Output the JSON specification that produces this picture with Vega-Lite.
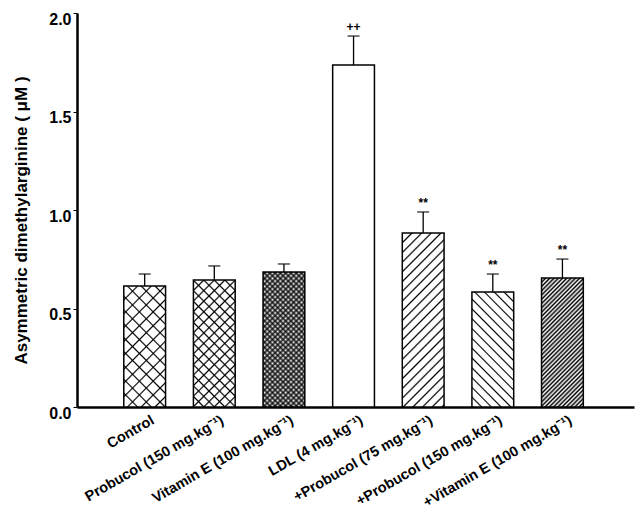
{
  "$schema": "https://vega.github.io/schema/vega-lite/v6.json",
  "width": 557,
  "height": 394,
  "autosize": "none",
  "padding": {"left": 77, "top": 13, "right": 6, "bottom": 112},
  "background": "white",
  "config": {
    "view": {"stroke": null},
    "font": "Liberation Sans",
    "axis": {"labelFont": "Liberation Sans", "titleFont": "Liberation Sans", "labelColor": "black", "titleColor": "black", "domainColor": "black", "tickColor": "black"}
  },
  "data": {
    "values": [
      {"n": 1, "group": "Control", "value": 0.614, "err": 0.675, "sig": ""},
      {"n": 2, "group": "Probucol (150 mg.kg⁻¹)", "value": 0.645, "err": 0.716, "sig": ""},
      {"n": 3, "group": "Vitamin E (100 mg.kg⁻¹)", "value": 0.685, "err": 0.726, "sig": ""},
      {"n": 4, "group": "LDL (4 mg.kg⁻¹)", "value": 1.736, "err": 1.883, "sig": "++"},
      {"n": 5, "group": "+Probucol (75 mg.kg⁻¹)", "value": 0.883, "err": 0.99, "sig": "**"},
      {"n": 6, "group": "+Probucol (150 mg.kg⁻¹)", "value": 0.584, "err": 0.675, "sig": "**"},
      {"n": 7, "group": "+Vitamin E (100 mg.kg⁻¹)", "value": 0.655, "err": 0.751, "sig": "**"}
    ]
  },
  "encoding": {
    "x": {
      "field": "group", "type": "nominal", "title": null,
      "scale": {"domain": ["Control", "Probucol (150 mg.kg⁻¹)", "Vitamin E (100 mg.kg⁻¹)", "LDL (4 mg.kg⁻¹)", "+Probucol (75 mg.kg⁻¹)", "+Probucol (150 mg.kg⁻¹)", "+Vitamin E (100 mg.kg⁻¹)"], "paddingInner": 0.4, "paddingOuter": 0.7, "align": 0.48},
      "axis": {"ticks": false, "domainWidth": 2.5, "labelAngle": -30, "labelAlign": "right", "labelBaseline": "top", "labelFontSize": 14.5, "labelFontWeight": "bold", "labelPadding": 6, "labelOffset": 5, "labelLimit": 400}
    },
    "y": {
      "field": "value", "type": "quantitative", "title": "Asymmetric dimethylarginine ( μM )",
      "scale": {"domain": [0, 2], "nice": false},
      "axis": {"values": [0, 0.5, 1, 1.5, 2], "format": ".1f", "grid": false, "domainWidth": 2.5, "tickSize": 4, "tickWidth": 1, "labelFontSize": 16, "labelFontWeight": "bold", "labelPadding": 2, "labelBaseline": "top", "labelOffset": -2, "titleFontSize": 17, "titleFontWeight": "bold", "titlePadding": 18, "titleY": 207}
    }
  },
  "layer": [
    {"mark": {"type": "bar", "fill": "white"}},
    {"transform": [{"filter": "datum.n === 1"}], "mark": {"type": "bar", "fill": {"gradient": "linear", "x1": 0, "y1": 0, "x2": 0.4173, "y2": 1.2023, "stops": [
      {"offset": 0.075, "color": "transparent"}, {"offset": 0.085, "color": "black"}, {"offset": 0.095, "color": "transparent"},
      {"offset": 0.16, "color": "transparent"}, {"offset": 0.17, "color": "black"}, {"offset": 0.18, "color": "transparent"},
      {"offset": 0.245, "color": "transparent"}, {"offset": 0.255, "color": "black"}, {"offset": 0.265, "color": "transparent"},
      {"offset": 0.33, "color": "transparent"}, {"offset": 0.34, "color": "black"}, {"offset": 0.35, "color": "transparent"},
      {"offset": 0.415, "color": "transparent"}, {"offset": 0.425, "color": "black"}, {"offset": 0.435, "color": "transparent"},
      {"offset": 0.5, "color": "transparent"}, {"offset": 0.51, "color": "black"}, {"offset": 0.52, "color": "transparent"},
      {"offset": 0.585, "color": "transparent"}, {"offset": 0.595, "color": "black"}, {"offset": 0.605, "color": "transparent"},
      {"offset": 0.67, "color": "transparent"}, {"offset": 0.68, "color": "black"}, {"offset": 0.69, "color": "transparent"},
      {"offset": 0.755, "color": "transparent"}, {"offset": 0.765, "color": "black"}, {"offset": 0.775, "color": "transparent"},
      {"offset": 0.84, "color": "transparent"}, {"offset": 0.85, "color": "black"}, {"offset": 0.86, "color": "transparent"},
      {"offset": 0.925, "color": "transparent"}, {"offset": 0.935, "color": "black"}, {"offset": 0.945, "color": "transparent"}
    ]}}},
    {"transform": [{"filter": "datum.n === 1"}], "mark": {"type": "bar", "fill": {"gradient": "linear", "x1": 0, "y1": 1, "x2": 0.4173, "y2": -0.2023, "stops": [
      {"offset": 0.075, "color": "transparent"}, {"offset": 0.085, "color": "black"}, {"offset": 0.095, "color": "transparent"},
      {"offset": 0.16, "color": "transparent"}, {"offset": 0.17, "color": "black"}, {"offset": 0.18, "color": "transparent"},
      {"offset": 0.245, "color": "transparent"}, {"offset": 0.255, "color": "black"}, {"offset": 0.265, "color": "transparent"},
      {"offset": 0.33, "color": "transparent"}, {"offset": 0.34, "color": "black"}, {"offset": 0.35, "color": "transparent"},
      {"offset": 0.415, "color": "transparent"}, {"offset": 0.425, "color": "black"}, {"offset": 0.435, "color": "transparent"},
      {"offset": 0.5, "color": "transparent"}, {"offset": 0.51, "color": "black"}, {"offset": 0.52, "color": "transparent"},
      {"offset": 0.585, "color": "transparent"}, {"offset": 0.595, "color": "black"}, {"offset": 0.605, "color": "transparent"},
      {"offset": 0.67, "color": "transparent"}, {"offset": 0.68, "color": "black"}, {"offset": 0.69, "color": "transparent"},
      {"offset": 0.755, "color": "transparent"}, {"offset": 0.765, "color": "black"}, {"offset": 0.775, "color": "transparent"},
      {"offset": 0.84, "color": "transparent"}, {"offset": 0.85, "color": "black"}, {"offset": 0.86, "color": "transparent"},
      {"offset": 0.925, "color": "transparent"}, {"offset": 0.935, "color": "black"}, {"offset": 0.945, "color": "transparent"}
    ]}}},
    {"transform": [{"filter": "datum.n === 2"}], "mark": {"type": "bar", "fill": {"gradient": "linear", "x1": 0, "y1": 0, "x2": 0.3967, "y2": 1.1995, "stops": [
      {"offset": 0.0525, "color": "transparent"}, {"offset": 0.0625, "color": "black"}, {"offset": 0.0725, "color": "transparent"},
      {"offset": 0.115, "color": "transparent"}, {"offset": 0.125, "color": "black"}, {"offset": 0.135, "color": "transparent"},
      {"offset": 0.1775, "color": "transparent"}, {"offset": 0.1875, "color": "black"}, {"offset": 0.1975, "color": "transparent"},
      {"offset": 0.24, "color": "transparent"}, {"offset": 0.25, "color": "black"}, {"offset": 0.26, "color": "transparent"},
      {"offset": 0.3025, "color": "transparent"}, {"offset": 0.3125, "color": "black"}, {"offset": 0.3225, "color": "transparent"},
      {"offset": 0.365, "color": "transparent"}, {"offset": 0.375, "color": "black"}, {"offset": 0.385, "color": "transparent"},
      {"offset": 0.4275, "color": "transparent"}, {"offset": 0.4375, "color": "black"}, {"offset": 0.4475, "color": "transparent"},
      {"offset": 0.49, "color": "transparent"}, {"offset": 0.5, "color": "black"}, {"offset": 0.51, "color": "transparent"},
      {"offset": 0.5525, "color": "transparent"}, {"offset": 0.5625, "color": "black"}, {"offset": 0.5725, "color": "transparent"},
      {"offset": 0.615, "color": "transparent"}, {"offset": 0.625, "color": "black"}, {"offset": 0.635, "color": "transparent"},
      {"offset": 0.6775, "color": "transparent"}, {"offset": 0.6875, "color": "black"}, {"offset": 0.6975, "color": "transparent"},
      {"offset": 0.74, "color": "transparent"}, {"offset": 0.75, "color": "black"}, {"offset": 0.76, "color": "transparent"},
      {"offset": 0.8025, "color": "transparent"}, {"offset": 0.8125, "color": "black"}, {"offset": 0.8225, "color": "transparent"},
      {"offset": 0.865, "color": "transparent"}, {"offset": 0.875, "color": "black"}, {"offset": 0.885, "color": "transparent"},
      {"offset": 0.9275, "color": "transparent"}, {"offset": 0.9375, "color": "black"}, {"offset": 0.9475, "color": "transparent"}
    ]}}},
    {"transform": [{"filter": "datum.n === 2"}], "mark": {"type": "bar", "fill": {"gradient": "linear", "x1": 0, "y1": 1, "x2": 0.3967, "y2": -0.1995, "stops": [
      {"offset": 0.0525, "color": "transparent"}, {"offset": 0.0625, "color": "black"}, {"offset": 0.0725, "color": "transparent"},
      {"offset": 0.115, "color": "transparent"}, {"offset": 0.125, "color": "black"}, {"offset": 0.135, "color": "transparent"},
      {"offset": 0.1775, "color": "transparent"}, {"offset": 0.1875, "color": "black"}, {"offset": 0.1975, "color": "transparent"},
      {"offset": 0.24, "color": "transparent"}, {"offset": 0.25, "color": "black"}, {"offset": 0.26, "color": "transparent"},
      {"offset": 0.3025, "color": "transparent"}, {"offset": 0.3125, "color": "black"}, {"offset": 0.3225, "color": "transparent"},
      {"offset": 0.365, "color": "transparent"}, {"offset": 0.375, "color": "black"}, {"offset": 0.385, "color": "transparent"},
      {"offset": 0.4275, "color": "transparent"}, {"offset": 0.4375, "color": "black"}, {"offset": 0.4475, "color": "transparent"},
      {"offset": 0.49, "color": "transparent"}, {"offset": 0.5, "color": "black"}, {"offset": 0.51, "color": "transparent"},
      {"offset": 0.5525, "color": "transparent"}, {"offset": 0.5625, "color": "black"}, {"offset": 0.5725, "color": "transparent"},
      {"offset": 0.615, "color": "transparent"}, {"offset": 0.625, "color": "black"}, {"offset": 0.635, "color": "transparent"},
      {"offset": 0.6775, "color": "transparent"}, {"offset": 0.6875, "color": "black"}, {"offset": 0.6975, "color": "transparent"},
      {"offset": 0.74, "color": "transparent"}, {"offset": 0.75, "color": "black"}, {"offset": 0.76, "color": "transparent"},
      {"offset": 0.8025, "color": "transparent"}, {"offset": 0.8125, "color": "black"}, {"offset": 0.8225, "color": "transparent"},
      {"offset": 0.865, "color": "transparent"}, {"offset": 0.875, "color": "black"}, {"offset": 0.885, "color": "transparent"},
      {"offset": 0.9275, "color": "transparent"}, {"offset": 0.9375, "color": "black"}, {"offset": 0.9475, "color": "transparent"}
    ]}}},
    {"transform": [{"filter": "datum.n === 3"}], "mark": {"type": "bar", "fillOpacity": 0.8, "fill": {"gradient": "linear", "x1": 0, "y1": 0, "x2": 0.3719, "y2": 1.1954, "stops": [
      {"offset": 0, "color": "transparent"}, {"offset": 0.015, "color": "black"}, {"offset": 0.03, "color": "transparent"}, {"offset": 0.045, "color": "black"}, {"offset": 0.06, "color": "transparent"}, {"offset": 0.075, "color": "black"}, {"offset": 0.09, "color": "transparent"}, {"offset": 0.105, "color": "black"}, {"offset": 0.12, "color": "transparent"}, {"offset": 0.135, "color": "black"},
      {"offset": 0.15, "color": "transparent"}, {"offset": 0.165, "color": "black"}, {"offset": 0.18, "color": "transparent"}, {"offset": 0.195, "color": "black"}, {"offset": 0.21, "color": "transparent"}, {"offset": 0.225, "color": "black"}, {"offset": 0.24, "color": "transparent"}, {"offset": 0.255, "color": "black"}, {"offset": 0.27, "color": "transparent"}, {"offset": 0.285, "color": "black"},
      {"offset": 0.3, "color": "transparent"}, {"offset": 0.315, "color": "black"}, {"offset": 0.33, "color": "transparent"}, {"offset": 0.345, "color": "black"}, {"offset": 0.36, "color": "transparent"}, {"offset": 0.375, "color": "black"}, {"offset": 0.39, "color": "transparent"}, {"offset": 0.405, "color": "black"}, {"offset": 0.42, "color": "transparent"}, {"offset": 0.435, "color": "black"},
      {"offset": 0.45, "color": "transparent"}, {"offset": 0.465, "color": "black"}, {"offset": 0.48, "color": "transparent"}, {"offset": 0.495, "color": "black"}, {"offset": 0.51, "color": "transparent"}, {"offset": 0.525, "color": "black"}, {"offset": 0.54, "color": "transparent"}, {"offset": 0.555, "color": "black"}, {"offset": 0.57, "color": "transparent"}, {"offset": 0.585, "color": "black"},
      {"offset": 0.6, "color": "transparent"}, {"offset": 0.615, "color": "black"}, {"offset": 0.63, "color": "transparent"}, {"offset": 0.645, "color": "black"}, {"offset": 0.66, "color": "transparent"}, {"offset": 0.675, "color": "black"}, {"offset": 0.69, "color": "transparent"}, {"offset": 0.705, "color": "black"}, {"offset": 0.72, "color": "transparent"}, {"offset": 0.735, "color": "black"},
      {"offset": 0.75, "color": "transparent"}, {"offset": 0.765, "color": "black"}, {"offset": 0.78, "color": "transparent"}, {"offset": 0.795, "color": "black"}, {"offset": 0.81, "color": "transparent"}, {"offset": 0.825, "color": "black"}, {"offset": 0.84, "color": "transparent"}, {"offset": 0.855, "color": "black"}, {"offset": 0.87, "color": "transparent"}, {"offset": 0.885, "color": "black"},
      {"offset": 0.9, "color": "transparent"}, {"offset": 0.915, "color": "black"}, {"offset": 0.93, "color": "transparent"}, {"offset": 0.945, "color": "black"}, {"offset": 0.96, "color": "transparent"}, {"offset": 0.975, "color": "black"}, {"offset": 0.99, "color": "transparent"}
    ]}}},
    {"transform": [{"filter": "datum.n === 3"}], "mark": {"type": "bar", "fillOpacity": 0.8, "fill": {"gradient": "linear", "x1": 0, "y1": 1, "x2": 0.3719, "y2": -0.1954, "stops": [
      {"offset": 0, "color": "transparent"}, {"offset": 0.015, "color": "black"}, {"offset": 0.03, "color": "transparent"}, {"offset": 0.045, "color": "black"}, {"offset": 0.06, "color": "transparent"}, {"offset": 0.075, "color": "black"}, {"offset": 0.09, "color": "transparent"}, {"offset": 0.105, "color": "black"}, {"offset": 0.12, "color": "transparent"}, {"offset": 0.135, "color": "black"},
      {"offset": 0.15, "color": "transparent"}, {"offset": 0.165, "color": "black"}, {"offset": 0.18, "color": "transparent"}, {"offset": 0.195, "color": "black"}, {"offset": 0.21, "color": "transparent"}, {"offset": 0.225, "color": "black"}, {"offset": 0.24, "color": "transparent"}, {"offset": 0.255, "color": "black"}, {"offset": 0.27, "color": "transparent"}, {"offset": 0.285, "color": "black"},
      {"offset": 0.3, "color": "transparent"}, {"offset": 0.315, "color": "black"}, {"offset": 0.33, "color": "transparent"}, {"offset": 0.345, "color": "black"}, {"offset": 0.36, "color": "transparent"}, {"offset": 0.375, "color": "black"}, {"offset": 0.39, "color": "transparent"}, {"offset": 0.405, "color": "black"}, {"offset": 0.42, "color": "transparent"}, {"offset": 0.435, "color": "black"},
      {"offset": 0.45, "color": "transparent"}, {"offset": 0.465, "color": "black"}, {"offset": 0.48, "color": "transparent"}, {"offset": 0.495, "color": "black"}, {"offset": 0.51, "color": "transparent"}, {"offset": 0.525, "color": "black"}, {"offset": 0.54, "color": "transparent"}, {"offset": 0.555, "color": "black"}, {"offset": 0.57, "color": "transparent"}, {"offset": 0.585, "color": "black"},
      {"offset": 0.6, "color": "transparent"}, {"offset": 0.615, "color": "black"}, {"offset": 0.63, "color": "transparent"}, {"offset": 0.645, "color": "black"}, {"offset": 0.66, "color": "transparent"}, {"offset": 0.675, "color": "black"}, {"offset": 0.69, "color": "transparent"}, {"offset": 0.705, "color": "black"}, {"offset": 0.72, "color": "transparent"}, {"offset": 0.735, "color": "black"},
      {"offset": 0.75, "color": "transparent"}, {"offset": 0.765, "color": "black"}, {"offset": 0.78, "color": "transparent"}, {"offset": 0.795, "color": "black"}, {"offset": 0.81, "color": "transparent"}, {"offset": 0.825, "color": "black"}, {"offset": 0.84, "color": "transparent"}, {"offset": 0.855, "color": "black"}, {"offset": 0.87, "color": "transparent"}, {"offset": 0.885, "color": "black"},
      {"offset": 0.9, "color": "transparent"}, {"offset": 0.915, "color": "black"}, {"offset": 0.93, "color": "transparent"}, {"offset": 0.945, "color": "black"}, {"offset": 0.96, "color": "transparent"}, {"offset": 0.975, "color": "black"}, {"offset": 0.99, "color": "transparent"}
    ]}}},
    {"transform": [{"filter": "datum.n === 5"}], "mark": {"type": "bar", "fill": {"gradient": "linear", "x1": 0, "y1": 0, "x2": 0.2831, "y2": 1.1729, "stops": [
      {"offset": 0.037, "color": "transparent"}, {"offset": 0.045, "color": "black"}, {"offset": 0.053, "color": "transparent"},
      {"offset": 0.082, "color": "transparent"}, {"offset": 0.09, "color": "black"}, {"offset": 0.098, "color": "transparent"},
      {"offset": 0.127, "color": "transparent"}, {"offset": 0.135, "color": "black"}, {"offset": 0.143, "color": "transparent"},
      {"offset": 0.172, "color": "transparent"}, {"offset": 0.18, "color": "black"}, {"offset": 0.188, "color": "transparent"},
      {"offset": 0.217, "color": "transparent"}, {"offset": 0.225, "color": "black"}, {"offset": 0.233, "color": "transparent"},
      {"offset": 0.262, "color": "transparent"}, {"offset": 0.27, "color": "black"}, {"offset": 0.278, "color": "transparent"},
      {"offset": 0.307, "color": "transparent"}, {"offset": 0.315, "color": "black"}, {"offset": 0.323, "color": "transparent"},
      {"offset": 0.352, "color": "transparent"}, {"offset": 0.36, "color": "black"}, {"offset": 0.368, "color": "transparent"},
      {"offset": 0.397, "color": "transparent"}, {"offset": 0.405, "color": "black"}, {"offset": 0.413, "color": "transparent"},
      {"offset": 0.442, "color": "transparent"}, {"offset": 0.45, "color": "black"}, {"offset": 0.458, "color": "transparent"},
      {"offset": 0.487, "color": "transparent"}, {"offset": 0.495, "color": "black"}, {"offset": 0.503, "color": "transparent"},
      {"offset": 0.532, "color": "transparent"}, {"offset": 0.54, "color": "black"}, {"offset": 0.548, "color": "transparent"},
      {"offset": 0.577, "color": "transparent"}, {"offset": 0.585, "color": "black"}, {"offset": 0.593, "color": "transparent"},
      {"offset": 0.622, "color": "transparent"}, {"offset": 0.63, "color": "black"}, {"offset": 0.638, "color": "transparent"},
      {"offset": 0.667, "color": "transparent"}, {"offset": 0.675, "color": "black"}, {"offset": 0.683, "color": "transparent"},
      {"offset": 0.712, "color": "transparent"}, {"offset": 0.72, "color": "black"}, {"offset": 0.728, "color": "transparent"},
      {"offset": 0.757, "color": "transparent"}, {"offset": 0.765, "color": "black"}, {"offset": 0.773, "color": "transparent"},
      {"offset": 0.802, "color": "transparent"}, {"offset": 0.81, "color": "black"}, {"offset": 0.818, "color": "transparent"},
      {"offset": 0.847, "color": "transparent"}, {"offset": 0.855, "color": "black"}, {"offset": 0.863, "color": "transparent"},
      {"offset": 0.892, "color": "transparent"}, {"offset": 0.9, "color": "black"}, {"offset": 0.908, "color": "transparent"},
      {"offset": 0.937, "color": "transparent"}, {"offset": 0.945, "color": "black"}, {"offset": 0.953, "color": "transparent"},
      {"offset": 0.982, "color": "transparent"}, {"offset": 0.99, "color": "black"}, {"offset": 0.998, "color": "transparent"}
    ]}}},
    {"transform": [{"filter": "datum.n === 6"}], "mark": {"type": "bar", "fill": {"gradient": "linear", "x1": 0, "y1": 1, "x2": 0.4399, "y2": -0.2045, "stops": [
      {"offset": 0.0525, "color": "transparent"}, {"offset": 0.0625, "color": "black"}, {"offset": 0.0725, "color": "transparent"},
      {"offset": 0.115, "color": "transparent"}, {"offset": 0.125, "color": "black"}, {"offset": 0.135, "color": "transparent"},
      {"offset": 0.1775, "color": "transparent"}, {"offset": 0.1875, "color": "black"}, {"offset": 0.1975, "color": "transparent"},
      {"offset": 0.24, "color": "transparent"}, {"offset": 0.25, "color": "black"}, {"offset": 0.26, "color": "transparent"},
      {"offset": 0.3025, "color": "transparent"}, {"offset": 0.3125, "color": "black"}, {"offset": 0.3225, "color": "transparent"},
      {"offset": 0.365, "color": "transparent"}, {"offset": 0.375, "color": "black"}, {"offset": 0.385, "color": "transparent"},
      {"offset": 0.4275, "color": "transparent"}, {"offset": 0.4375, "color": "black"}, {"offset": 0.4475, "color": "transparent"},
      {"offset": 0.49, "color": "transparent"}, {"offset": 0.5, "color": "black"}, {"offset": 0.51, "color": "transparent"},
      {"offset": 0.5525, "color": "transparent"}, {"offset": 0.5625, "color": "black"}, {"offset": 0.5725, "color": "transparent"},
      {"offset": 0.615, "color": "transparent"}, {"offset": 0.625, "color": "black"}, {"offset": 0.635, "color": "transparent"},
      {"offset": 0.6775, "color": "transparent"}, {"offset": 0.6875, "color": "black"}, {"offset": 0.6975, "color": "transparent"},
      {"offset": 0.74, "color": "transparent"}, {"offset": 0.75, "color": "black"}, {"offset": 0.76, "color": "transparent"},
      {"offset": 0.8025, "color": "transparent"}, {"offset": 0.8125, "color": "black"}, {"offset": 0.8225, "color": "transparent"},
      {"offset": 0.865, "color": "transparent"}, {"offset": 0.875, "color": "black"}, {"offset": 0.885, "color": "transparent"},
      {"offset": 0.9275, "color": "transparent"}, {"offset": 0.9375, "color": "black"}, {"offset": 0.9475, "color": "transparent"}
    ]}}},
    {"transform": [{"filter": "datum.n === 7"}], "mark": {"type": "bar", "fill": {"gradient": "linear", "x1": 0, "y1": 0, "x2": 0.3902, "y2": 1.1985, "stops": [
      {"offset": 0, "color": "black"}, {"offset": 0.0125, "color": "transparent"}, {"offset": 0.025, "color": "black"}, {"offset": 0.0375, "color": "transparent"}, {"offset": 0.05, "color": "black"}, {"offset": 0.0625, "color": "transparent"}, {"offset": 0.075, "color": "black"}, {"offset": 0.0875, "color": "transparent"},
      {"offset": 0.1, "color": "black"}, {"offset": 0.1125, "color": "transparent"}, {"offset": 0.125, "color": "black"}, {"offset": 0.1375, "color": "transparent"}, {"offset": 0.15, "color": "black"}, {"offset": 0.1625, "color": "transparent"}, {"offset": 0.175, "color": "black"}, {"offset": 0.1875, "color": "transparent"},
      {"offset": 0.2, "color": "black"}, {"offset": 0.2125, "color": "transparent"}, {"offset": 0.225, "color": "black"}, {"offset": 0.2375, "color": "transparent"}, {"offset": 0.25, "color": "black"}, {"offset": 0.2625, "color": "transparent"}, {"offset": 0.275, "color": "black"}, {"offset": 0.2875, "color": "transparent"},
      {"offset": 0.3, "color": "black"}, {"offset": 0.3125, "color": "transparent"}, {"offset": 0.325, "color": "black"}, {"offset": 0.3375, "color": "transparent"}, {"offset": 0.35, "color": "black"}, {"offset": 0.3625, "color": "transparent"}, {"offset": 0.375, "color": "black"}, {"offset": 0.3875, "color": "transparent"},
      {"offset": 0.4, "color": "black"}, {"offset": 0.4125, "color": "transparent"}, {"offset": 0.425, "color": "black"}, {"offset": 0.4375, "color": "transparent"}, {"offset": 0.45, "color": "black"}, {"offset": 0.4625, "color": "transparent"}, {"offset": 0.475, "color": "black"}, {"offset": 0.4875, "color": "transparent"},
      {"offset": 0.5, "color": "black"}, {"offset": 0.5125, "color": "transparent"}, {"offset": 0.525, "color": "black"}, {"offset": 0.5375, "color": "transparent"}, {"offset": 0.55, "color": "black"}, {"offset": 0.5625, "color": "transparent"}, {"offset": 0.575, "color": "black"}, {"offset": 0.5875, "color": "transparent"},
      {"offset": 0.6, "color": "black"}, {"offset": 0.6125, "color": "transparent"}, {"offset": 0.625, "color": "black"}, {"offset": 0.6375, "color": "transparent"}, {"offset": 0.65, "color": "black"}, {"offset": 0.6625, "color": "transparent"}, {"offset": 0.675, "color": "black"}, {"offset": 0.6875, "color": "transparent"},
      {"offset": 0.7, "color": "black"}, {"offset": 0.7125, "color": "transparent"}, {"offset": 0.725, "color": "black"}, {"offset": 0.7375, "color": "transparent"}, {"offset": 0.75, "color": "black"}, {"offset": 0.7625, "color": "transparent"}, {"offset": 0.775, "color": "black"}, {"offset": 0.7875, "color": "transparent"},
      {"offset": 0.8, "color": "black"}, {"offset": 0.8125, "color": "transparent"}, {"offset": 0.825, "color": "black"}, {"offset": 0.8375, "color": "transparent"}, {"offset": 0.85, "color": "black"}, {"offset": 0.8625, "color": "transparent"}, {"offset": 0.875, "color": "black"}, {"offset": 0.8875, "color": "transparent"},
      {"offset": 0.9, "color": "black"}, {"offset": 0.9125, "color": "transparent"}, {"offset": 0.925, "color": "black"}, {"offset": 0.9375, "color": "transparent"}, {"offset": 0.95, "color": "black"}, {"offset": 0.9625, "color": "transparent"}, {"offset": 0.975, "color": "black"}, {"offset": 0.9875, "color": "transparent"}
    ]}}},
    {"mark": {"type": "bar", "filled": false, "color": "black", "strokeWidth": 1.5}},
    {"mark": {"type": "rule", "color": "black", "strokeWidth": 1.3}, "encoding": {"y2": {"field": "err"}}},
    {"mark": {"type": "tick", "color": "black", "size": 12, "thickness": 1.5}, "encoding": {"y": {"field": "err", "type": "quantitative"}}},
    {"mark": {"type": "text", "baseline": "alphabetic", "dy": -5, "fontSize": 12, "fontWeight": "bold", "color": "black"}, "encoding": {"y": {"field": "err", "type": "quantitative"}, "text": {"field": "sig"}}}
  ]
}
